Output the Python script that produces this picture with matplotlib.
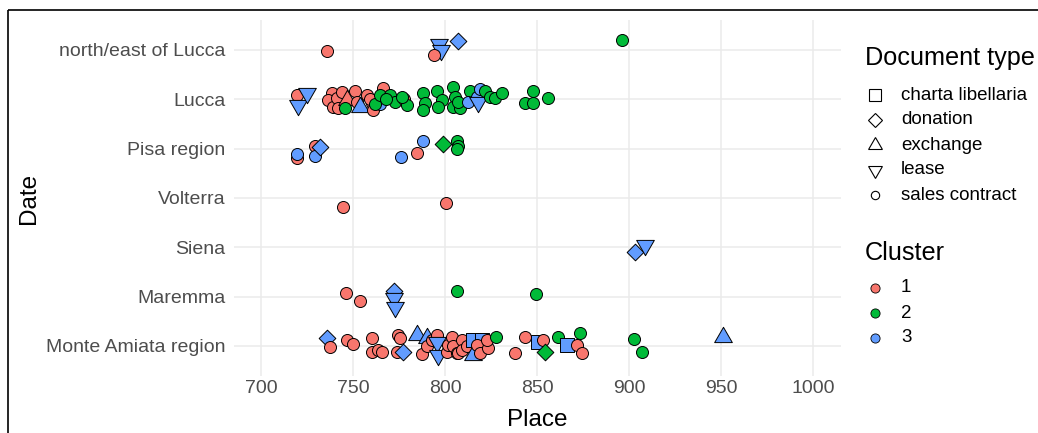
import matplotlib
matplotlib.use("Agg")
import matplotlib.pyplot as plt
import numpy as np

# ---------------- data ----------------
regions = ["Monte Amiata region", "Maremma", "Siena", "Volterra",
           "Pisa region", "Lucca", "north/east of Lucca"]
doc_types = ["charta libellaria", "donation", "exchange", "lease", "sales contract"]
clusters = ["1", "2", "3"]

# type codes: C charta libellaria, D donation, E exchange, L lease, S sales contract
ne_place = [735.5, 796.7, 797.5, 793.9, 807.1, 895.9]
ne_jit = [-0.03, 0.12, -0.01, -0.10, 0.18, 0.20]
ne_cl = [1, 3, 3, 1, 3, 2]
ne_type = "SLLSDS"

lu_place = [719.6, 720.1, 724.7, 738.3, 736.5, 739.1, 741.0, 741.8, 743.9, 746.4,
            745.5, 750.9, 751.8, 753.6, 757.3, 760.0, 760.9, 759.0, 764.5, 761.8,
            766.3, 764.5, 769.9, 772.7, 777.3, 779.0, 776.3, 767.7, 788.1, 789.0,
            788.1, 795.3, 798.0, 796.2, 804.3, 805.3, 804.3, 808.0, 807.0, 813.4,
            812.5, 817.0, 818.0, 819.0, 821.6, 824.3, 827.0, 830.6, 847.8, 843.3,
            847.8, 856.0]
lu_jit = [0.09, -0.12, 0.12, 0.12, -0.01, -0.15, 0.02, -0.18, 0.14, -0.01,
          -0.18, 0.16, -0.05, -0.15, 0.09, -0.08, -0.22, 0.01, -0.09, -0.09,
          0.22, 0.08, 0.08, -0.05, 0.01, -0.12, 0.05, 0.00, 0.12, -0.08,
          -0.22, 0.16, -0.01, -0.15, 0.26, 0.05, -0.15, -0.18, -0.05, 0.16,
          -0.05, 0.05, -0.05, 0.20, 0.16, 0.05, 0.02, 0.12, 0.16, -0.08,
          -0.08, 0.02]
lu_cl = [1, 3, 3, 1, 1, 1, 1, 1, 1, 1,
         2, 1, 1, 3, 1, 1, 1, 1, 3, 2,
         1, 2, 2, 2, 1, 2, 2, 2, 2, 2,
         2, 2, 2, 2, 2, 2, 2, 2, 2, 2,
         3, 3, 3, 3, 2, 2, 2, 2, 2, 2,
         2, 2]
lu_type = "SLLSSSSSSESSSESSSSSSSSSSSSSSSSSSSSSSSSSSSSLSSSSSSSSS"

pi_place = [719.2, 719.2, 729.2, 729.2, 731.9, 775.8, 784.5, 787.7, 798.9, 806.2, 807.1, 806.2]
pi_jit = [-0.18, -0.11, 0.06, -0.14, 0.04, -0.16, -0.08, 0.16, 0.10, 0.16, 0.06, -0.01]
pi_cl = [1, 3, 1, 3, 3, 3, 1, 3, 2, 2, 2, 2]
pi_type = "SSSSDSSSDSSS"

vo_place = [744.6, 800.2]
vo_jit = [-0.19, -0.11]
vo_cl = [1, 1]
vo_type = "SS"

si_place = [903.1, 908.5]
si_jit = [-0.10, 0.05]
si_cl = [3, 3]
si_type = "DL"

ma_place = [745.9, 753.6, 772.1, 772.0, 772.4, 806.5, 849.3]
ma_jit = [0.08, -0.08, 0.12, -0.03, -0.20, 0.12, 0.05]
ma_cl = [1, 1, 3, 3, 3, 2, 2]
ma_type = "SSDLLSS"

am_place = [735.5, 737.3, 746.4, 750.0, 760.0, 760.0, 763.6, 765.4, 774.5, 775.4,
            773.6, 777.2, 784.5, 789.9, 787.2, 789.9, 792.6, 795.3, 795.3, 796.2,
            800.8, 801.7, 803.5, 804.3, 806.2, 807.1, 808.9, 808.9, 811.6, 815.2,
            819.8, 815.2, 817.0, 818.9, 823.4, 822.5, 827.6, 837.9, 843.3, 850.5,
            853.3, 854.2, 861.4, 866.0, 873.2, 871.4, 874.1, 902.7, 906.9, 951.1]
am_jit = [0.16, -0.03, 0.12, 0.05, 0.16, -0.12, -0.08, -0.12, 0.22, 0.16,
          -0.12, -0.12, 0.22, 0.16, -0.16, -0.01, 0.12, 0.22, 0.09, -0.18,
          -0.12, 0.02, 0.19, -0.01, -0.15, -0.15, 0.12, -0.08, -0.01, 0.12,
          0.12, -0.18, 0.02, -0.15, -0.05, 0.12, 0.19, -0.15, 0.19, 0.09,
          0.12, -0.12, 0.19, 0.02, 0.26, 0.02, -0.15, 0.14, -0.12, 0.18]
am_cl = [3, 1, 1, 1, 1, 1, 1, 1, 1, 1,
         1, 3, 3, 3, 1, 1, 1, 1, 3, 3,
         1, 1, 1, 1, 1, 1, 1, 1, 1, 3,
         3, 3, 1, 1, 1, 1, 2, 1, 1, 3,
         1, 2, 2, 3, 2, 1, 1, 2, 2, 3]
am_type = "DSSSSSSSSSSDEESSSSLLSSSSSSSSSCCESSSSSSSCSDSCSSSSSE"

# ---------------- styling ----------------
FONT = "Liberation Sans"
plt.rcParams["font.family"] = [FONT, "DejaVu Sans"]
colors = {1: "#F8766D", 2: "#00BA38", 3: "#619CFF"}

tri_up = (3, 0, 0)
tri_dn = (3, 0, 180)
marker_of = {"S": "o", "C": "s", "D": "D", "E": tri_up, "L": tri_dn}
size_of = {"S": 75, "C": 88, "D": 72, "E": 216, "L": 216}

W, H = 1038, 433
fig = plt.figure(figsize=(W / 100, H / 100), dpi=100)
fig.patch.set_facecolor("white")

left, right, top, bottom = 233.7, 840.9, 20.4, 375.6
ax = fig.add_axes([left / W, 1 - bottom / H, (right - left) / W, (bottom - top) / H])
ax.set_facecolor("white")
ax.set_xlim(685, 1015)
ax.set_ylim(0.4, 7.6)
ax.set_xticks([700, 750, 800, 850, 900, 950, 1000])
ax.set_yticks(range(1, 8))
ax.set_yticklabels(regions)
ax.grid(True, color="#EBEBEB", linewidth=1.1)
ax.set_axisbelow(True)
for s in ax.spines.values():
    s.set_visible(False)
ax.tick_params(length=0, labelsize=14, labelcolor="#4D4D4D")
ax.tick_params(axis="x", pad=3)
ax.tick_params(axis="y", pad=6)
ax.set_xlabel("Place", fontsize=17.5, labelpad=8.5)
ax.set_ylabel("Date", fontsize=17.5, labelpad=4.5)

groups = [
    ("north/east of Lucca", ne_place, ne_jit, ne_cl, ne_type),
    ("Lucca", lu_place, lu_jit, lu_cl, lu_type),
    ("Pisa region", pi_place, pi_jit, pi_cl, pi_type),
    ("Volterra", vo_place, vo_jit, vo_cl, vo_type),
    ("Siena", si_place, si_jit, si_cl, si_type),
    ("Maremma", ma_place, ma_jit, ma_cl, ma_type),
    ("Monte Amiata region", am_place, am_jit, am_cl, am_type),
]
z = 3
for reg, xs, js, cls, tps in groups:
    base = regions.index(reg) + 1
    for x, j, c, t in zip(xs, js, cls, tps):
        ax.scatter([x], [base + j], marker=marker_of[t], s=size_of[t],
                   facecolor=colors[c], edgecolor="black", linewidths=0.7,
                   zorder=z)
        z += 0.001

# ---------------- legends (pixel coordinates) ----------------
lg = fig.add_axes([0, 0, 1, 1])
lg.set_xlim(0, W)
lg.set_ylim(H, 0)
lg.axis("off")
lg.patch.set_alpha(0)

lg.text(865, 58, "Document type", fontsize=18.2, va="center", ha="left")
leg_marker = {"charta libellaria": ("s", 8.0), "donation": ("D", 7.2),
              "exchange": (tri_up, 11.5), "lease": (tri_dn, 11.5),
              "sales contract": ("o", 6.0)}
for i, name in enumerate(doc_types):
    yy = 95 + i * 25
    m, ms = leg_marker[name]
    lg.plot([875], [yy], marker=m, markersize=ms, markerfacecolor="none",
            markeredgecolor="black", markeredgewidth=0.8, linestyle="none")
    lg.text(901, yy, name, fontsize=13.5, va="center", ha="left")

lg.text(865, 253, "Cluster", fontsize=18.2, va="center", ha="left")
for i, c in enumerate(clusters):
    yy = 288 + i * 25
    lg.plot([874.5], [yy], marker="o", markersize=6.6,
            markerfacecolor=colors[int(c)], markeredgecolor="black",
            markeredgewidth=0.6, linestyle="none")
    lg.text(901, yy, c, fontsize=13.5, va="center", ha="left")

# outer frame (left and top edges visible in the reference)
lg.plot([8, 8], [10, H + 5], color="black", linewidth=1.2, solid_capstyle="butt")
lg.plot([8, W + 5], [10, 10], color="black", linewidth=1.2, solid_capstyle="butt")

fig.savefig("out.png", dpi=100, facecolor="white")
